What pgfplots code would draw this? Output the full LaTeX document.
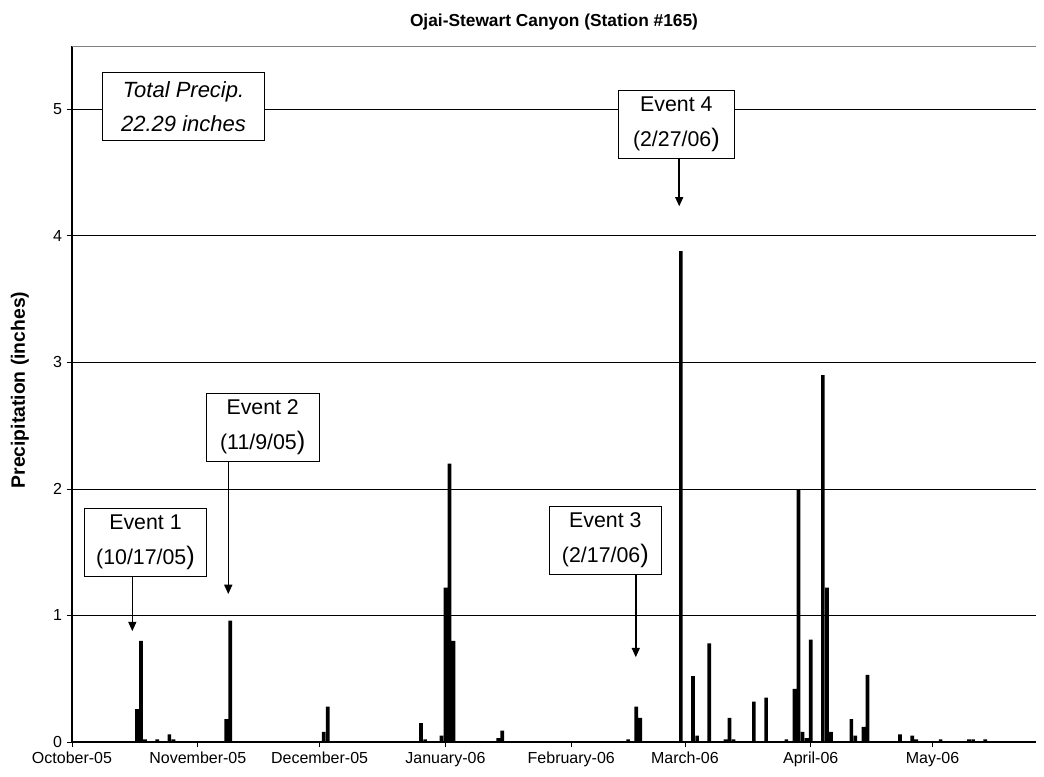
\documentclass[border=0pt]{standalone}
\usepackage{fontspec}
\setmainfont{Liberation Sans}
\usepackage{pgfplots}
\pgfplotsset{compat=1.18}
\usetikzlibrary{arrows.meta}
\pgfplotstableread{
day val
16 0.26
17 0.80
18 0.02
21 0.02
24 0.06
25 0.02
38 0.18
39 0.96
62 0.08
63 0.28
86 0.15
87 0.02
91 0.05
92 1.22
93 2.20
94 0.80
105 0.03
106 0.09
137 0.02
139 0.28
140 0.19
150 3.88
153 0.52
154 0.05
157 0.78
161 0.02
162 0.19
163 0.02
168 0.32
171 0.35
176 0.02
178 0.42
179 1.99
180 0.08
181 0.03
182 0.81
185 2.90
186 1.22
187 0.08
192 0.18
193 0.05
195 0.12
196 0.53
204 0.06
207 0.05
208 0.02
214 0.02
221 0.02
222 0.02
225 0.02
}\precip
\newcommand{\bp}{{\fontsize{19}{19}\selectfont )}}
\begin{document}
\begin{tikzpicture}
\path[use as bounding box] (-54pt,-25.5pt) rectangle (729pt,556.5pt);
\begin{axis}[
  at={(0,0)}, anchor=south west,
  scale only axis, width=723pt, height=522pt,
  xmin=0, xmax=237.5, ymin=0, ymax=5.5,
  axis x line*=bottom, axis y line*=left,
  axis line style={-, black, line width=0.8pt},
  xtick={0,31,61,92,123,151,182,212},
  xticklabels={October-05,November-05,December-05,January-06,February-06,March-06,April-06,May-06},
  ytick={0,1,2,3,4,5},
  ymajorgrids, grid style={black, line width=0.6pt},
  tick align=outside, major tick length=4pt,
  tick style={black, line width=0.6pt},
  ticklabel style={font=\fontsize{12}{14}\selectfont},
  /pgf/number format/assume math mode=true,
  clip=false,
]
\addplot[ybar, bar width=0.9, bar shift=0pt, fill=black, draw=none] table[x=day, y=val] {\precip};
\draw[gray, line width=0.6pt] (rel axis cs:0,1) -- (rel axis cs:1,1);
% annotations
\tikzset{evbox/.style={draw, fill=white, line width=0.75pt, inner sep=0pt, align=center, minimum height=51pt, font=\fontsize{16}{26}\selectfont},
         evarrow/.style={line width=1.1pt, -{Triangle[width=6pt,length=7pt]}}}
\node[evbox, minimum width=122pt, font=\itshape\fontsize{16.5}{25}\selectfont] at (axis cs:27.47,5.021) {Total Precip.\\22.29 inches};
\node[evbox, minimum width=91.8pt] at (axis cs:18.1,1.578) {Event 1\\(10/17/05\bp};
\draw[evarrow] (axis cs:14.86,1.309) -- (axis cs:14.86,0.876);
\node[evbox, minimum width=85pt] at (axis cs:46.98,2.487) {Event 2\\(11/9/05\bp};
\draw[evarrow] (axis cs:38.5,2.218) -- (axis cs:38.5,1.169);
\node[evbox, minimum width=84.3pt] at (axis cs:131.4,1.593) {Event 3\\(2/17/06\bp};
\draw[evarrow] (axis cs:138.9,1.32) -- (axis cs:138.9,0.67);
\node[evbox, minimum width=86.5pt] at (axis cs:148.9,4.882) {Event 4\\(2/27/06\bp};
\draw[evarrow] (axis cs:149.6,4.616) -- (axis cs:149.6,4.233);
\end{axis}
\node[font=\bfseries\fontsize{13}{15}\selectfont] at (361.5pt,540pt) {Ojai-Stewart Canyon (Station \#165)};
\node[rotate=90, font=\bfseries\fontsize{14.5}{16}\selectfont] at (-39pt,264pt) {Precipitation (inches)};
\end{tikzpicture}
\end{document}
